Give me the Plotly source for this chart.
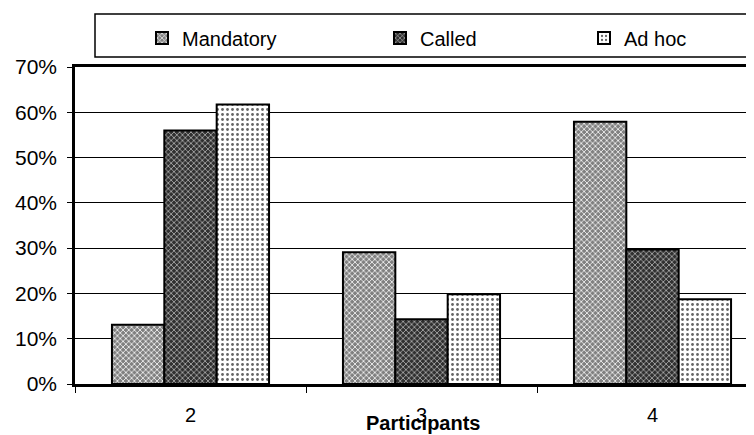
import plotly.graph_objects as go

categories = ["2", "3", "4"]
mandatory = [13.1, 29.1, 57.9]
called = [56.0, 14.3, 29.7]
ad_hoc = [61.7, 19.8, 18.7]
y_ticks = [0, 10, 20, 30, 40, 50, 60, 70]
y_tick_labels = ["0%", "10%", "20%", "30%", "40%", "50%", "60%", "70%"]
x_title = "Participants"

FONT = "Liberation Sans, Arial, sans-serif"

W, H = 754, 435
L, R, T, B = 67, 0, 59, 59
PW, PH = W - L - R, H - T - B


def px_x(p):
    return (p - L) / PW


def px_y(p):
    return (H - B - p) / PH


fig = go.Figure()
fig.add_trace(go.Bar(
    x=categories, y=mandatory, name="Mandatory", legend="legend",
    marker=dict(color="#9a9a9a", line=dict(color="black", width=2),
                pattern=dict(shape="x", fgcolor="#ffffff", bgcolor="#808080",
                             size=4, solidity=0.35, fillmode="replace")),
))
fig.add_trace(go.Bar(
    x=categories, y=called, name="Called", legend="legend2",
    marker=dict(color="#555555", line=dict(color="black", width=2),
                pattern=dict(shape="x", fgcolor="#d0d0d0", bgcolor="#303030",
                             size=4, solidity=0.3, fillmode="replace")),
))
fig.add_trace(go.Bar(
    x=categories, y=ad_hoc, name="Ad hoc", legend="legend3",
    marker=dict(color="#f4f4f4", line=dict(color="black", width=2),
                pattern=dict(shape=".", fgcolor="#666666", bgcolor="#ffffff",
                             size=5, solidity=0.25, fillmode="replace")),
))

leg_common = dict(orientation="h", yanchor="middle", xanchor="left",
                  bgcolor="rgba(0,0,0,0)", borderwidth=0, itemwidth=30,
                  font=dict(family=FONT, size=20, color="black"))
fig.update_layout(
    width=W, height=H,
    margin=dict(l=L, r=R, t=T, b=B, pad=0, autoexpand=False),
    paper_bgcolor="white", plot_bgcolor="white",
    showlegend=True,
    bargap=0.32, bargroupgap=0,
    font=dict(family=FONT, size=20, color="black"),
    legend=dict(x=px_x(134), y=px_y(30), **leg_common),
    legend2=dict(x=px_x(372), y=px_y(30), **leg_common),
    legend3=dict(x=px_x(576), y=px_y(30), **leg_common),
    shapes=[dict(type="rect", xref="paper", yref="paper",
                 x0=px_x(87), x1=px_x(745), y0=px_y(49), y1=px_y(6),
                 line=dict(color="black", width=1.5), fillcolor="rgba(0,0,0,0)")],
    annotations=[dict(text="<b>" + x_title + "</b>", xref="paper", yref="paper",
                      x=px_x(415), y=px_y(415), xanchor="center", yanchor="middle",
                      showarrow=False,
                      font=dict(family=FONT, size=20, color="black"))],
)
fig.update_xaxes(
    type="category", range=[-0.5, 2.474], tickson="boundaries",
    ticks="outside", ticklen=6, tickcolor="black", tickwidth=1,
    showline=True, linecolor="black", linewidth=2.5, mirror=True,
    showgrid=False, ticklabelstandoff=11,
    tickfont=dict(family=FONT, size=20, color="black"),
    automargin=False,
)
fig.update_yaxes(
    range=[0, 70], tickvals=y_ticks, ticktext=y_tick_labels,
    ticks="outside", ticklen=5, tickcolor="black", tickwidth=1,
    showline=True, linecolor="black", linewidth=2.5, mirror=False,
    showgrid=True, gridcolor="black", gridwidth=1, zeroline=False,
    ticklabelstandoff=6,
    tickfont=dict(family=FONT, size=21, color="black"),
    automargin=False,
)

fig.write_html("out.html")
